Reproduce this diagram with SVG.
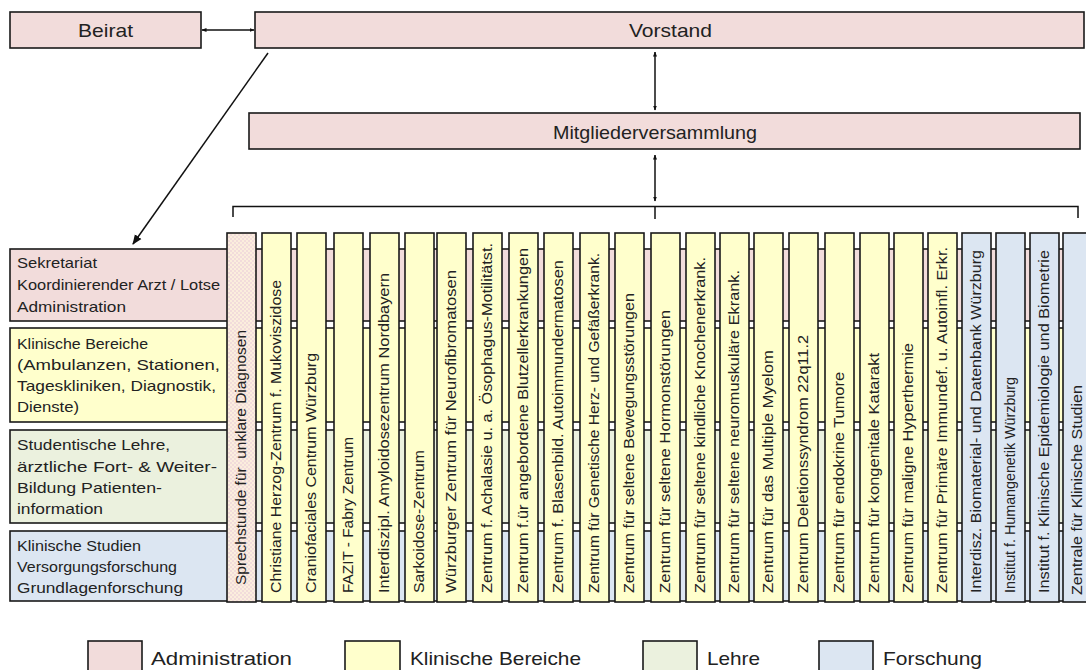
<svg xmlns="http://www.w3.org/2000/svg" width="1086" height="670" viewBox="0 0 1086 670">
<defs>
<style>
.box{stroke:#1a1a1a;stroke-width:1.6}
.adm{fill:#f2dcdb}.kli{fill:#ffffcc}.leh{fill:#ebf1de}.for{fill:#dce6f2}
.t{font-family:"Liberation Sans",Arial,sans-serif;fill:#222}
.lbl{font-size:15px}
.col{font-size:14px}
.big{font-size:18.5px}
.con{stroke:#111;stroke-width:1.5;fill:none}
</style>
<pattern id="chk" width="4" height="4" patternUnits="userSpaceOnUse">
<rect width="4" height="4" fill="#fbeedd"/>
<rect width="2" height="2" fill="#f2dcdb"/>
<rect x="2" y="2" width="2" height="2" fill="#f2dcdb"/>
</pattern>
<marker id="ah" viewBox="0 0 10 10" refX="9" refY="5" markerWidth="5" markerHeight="5" orient="auto-start-reverse" markerUnits="userSpaceOnUse">
<path d="M0,1 L10,5 L0,9 z" fill="#111"/>
</marker>
<marker id="ahb" viewBox="0 0 10 10" refX="9" refY="5" markerWidth="10" markerHeight="10" orient="auto" markerUnits="userSpaceOnUse">
<path d="M0,1 L10,5 L0,9 z" fill="#111"/>
</marker>
</defs>
<rect width="1086" height="670" fill="#fff"/>

<g id="beirat"><rect class="box adm" x="10" y="12" width="191" height="36"/><text class="t big" x="78" y="37" textLength="55" lengthAdjust="spacingAndGlyphs">Beirat</text></g>
<g id="vorstand"><rect class="box adm" x="255" y="12" width="829" height="36"/><text class="t big" x="629" y="37" textLength="83" lengthAdjust="spacingAndGlyphs">Vorstand</text></g>
<g id="mitglieder"><rect class="box adm" x="249" y="113" width="831" height="36"/><text class="t big" x="553" y="139" textLength="204" lengthAdjust="spacingAndGlyphs">Mitgliederversammlung</text></g>

<g id="row-admin"><rect class="box adm" x="10" y="249" width="1072" height="72"/>
<text class="t lbl" x="17" y="268" textLength="80" lengthAdjust="spacingAndGlyphs">Sekretariat</text>
<text class="t lbl" x="17" y="290" textLength="203" lengthAdjust="spacingAndGlyphs">Koordinierender Arzt / Lotse</text>
<text class="t lbl" x="17" y="312" textLength="109" lengthAdjust="spacingAndGlyphs">Administration</text></g>
<g id="row-klinik"><rect class="box kli" x="10" y="328" width="1072" height="94"/>
<text class="t lbl" x="17" y="349" textLength="131" lengthAdjust="spacingAndGlyphs">Klinische Bereiche</text>
<text class="t lbl" x="17" y="370" textLength="203" lengthAdjust="spacingAndGlyphs">(Ambulanzen, Stationen,</text>
<text class="t lbl" x="17" y="391" textLength="199" lengthAdjust="spacingAndGlyphs">Tageskliniken, Diagnostik,</text>
<text class="t lbl" x="17" y="412" textLength="62" lengthAdjust="spacingAndGlyphs">Dienste)</text></g>
<g id="row-lehre"><rect class="box leh" x="10" y="430" width="1072" height="93"/>
<text class="t lbl" x="17" y="450" textLength="153" lengthAdjust="spacingAndGlyphs">Studentische Lehre,</text>
<text class="t lbl" x="17" y="472" textLength="200" lengthAdjust="spacingAndGlyphs">ärztliche Fort- &amp; Weiter-</text>
<text class="t lbl" x="17" y="493" textLength="145" lengthAdjust="spacingAndGlyphs">Bildung Patienten-</text>
<text class="t lbl" x="17" y="514" textLength="86" lengthAdjust="spacingAndGlyphs">information</text></g>
<g id="row-forschung"><rect class="box for" x="10" y="531" width="1072" height="70"/>
<text class="t lbl" x="17" y="551" textLength="124" lengthAdjust="spacingAndGlyphs">Klinische Studien</text>
<text class="t lbl" x="17" y="572" textLength="160" lengthAdjust="spacingAndGlyphs">Versorgungsforschung</text>
<text class="t lbl" x="17" y="593" textLength="166" lengthAdjust="spacingAndGlyphs">Grundlagenforschung</text></g>

<g id="c1"><rect class="box" fill="url(#chk)" x="227" y="233" width="29" height="369"/><text class="t col" xml:space="preserve" transform="translate(246,585) rotate(-90)" textLength="255" lengthAdjust="spacingAndGlyphs">Sprechstunde für  unklare Diagnosen</text></g>
<g id="c2"><rect class="box kli" x="262" y="233" width="29" height="369"/><text class="t col" transform="translate(281,593) rotate(-90)" textLength="313" lengthAdjust="spacingAndGlyphs">Christiane Herzog-Zentrum f. Mukoviszidose</text></g>
<g id="c3"><rect class="box kli" x="297" y="233" width="29" height="369"/><text class="t col" transform="translate(316,593) rotate(-90)" textLength="240" lengthAdjust="spacingAndGlyphs">Craniofaciales Centrum Würzburg</text></g>
<g id="c4"><rect class="box kli" x="334" y="233" width="29" height="369"/><text class="t col" transform="translate(353,593) rotate(-90)" textLength="156" lengthAdjust="spacingAndGlyphs">FAZIT - Fabry Zentrum</text></g>
<g id="c5"><rect class="box kli" x="370" y="233" width="29" height="369"/><text class="t col" transform="translate(389,593) rotate(-90)" textLength="320" lengthAdjust="spacingAndGlyphs">Interdiszipl. Amyloidosezentrum Nordbayern</text></g>
<g id="c6"><rect class="box kli" x="405" y="233" width="29" height="369"/><text class="t col" transform="translate(424,593) rotate(-90)" textLength="143" lengthAdjust="spacingAndGlyphs">Sarkoidose-Zentrum</text></g>
<g id="c7"><rect class="box kli" x="437" y="233" width="29" height="369"/><text class="t col" transform="translate(456,593) rotate(-90)" textLength="323" lengthAdjust="spacingAndGlyphs">Würzburger Zentrum für Neurofibromatosen</text></g>
<g id="c8"><rect class="box kli" x="473" y="233" width="29" height="369"/><text class="t col" transform="translate(492,593) rotate(-90)" textLength="350" lengthAdjust="spacingAndGlyphs">Zentrum f. Achalasie u. a. Ösophagus-Motilitätst.</text></g>
<g id="c9"><rect class="box kli" x="509" y="233" width="29" height="369"/><text class="t col" transform="translate(528,593) rotate(-90)" textLength="345" lengthAdjust="spacingAndGlyphs">Zentrum f.ür angebordene Blutzellerkrankungen</text></g>
<g id="c10"><rect class="box kli" x="544" y="233" width="29" height="369"/><text class="t col" transform="translate(563,593) rotate(-90)" textLength="333" lengthAdjust="spacingAndGlyphs">Zentrum f. Blasenbild. Autoimmundermatosen</text></g>
<g id="c11"><rect class="box kli" x="580" y="233" width="29" height="369"/><text class="t col" transform="translate(599,593) rotate(-90)" textLength="340" lengthAdjust="spacingAndGlyphs">Zentrum für Genetische Herz- und Gefäßerkrank.</text></g>
<g id="c12"><rect class="box kli" x="615" y="233" width="29" height="369"/><text class="t col" transform="translate(634,593) rotate(-90)" textLength="300" lengthAdjust="spacingAndGlyphs">Zentrum für seltene Bewegungsstörungen</text></g>
<g id="c13"><rect class="box kli" x="651" y="233" width="29" height="369"/><text class="t col" transform="translate(670,593) rotate(-90)" textLength="283" lengthAdjust="spacingAndGlyphs">Zentrum für seltene Hormonstörungen</text></g>
<g id="c14"><rect class="box kli" x="686" y="233" width="29" height="369"/><text class="t col" transform="translate(705,593) rotate(-90)" textLength="336" lengthAdjust="spacingAndGlyphs">Zentrum für seltene kindliche Knochenerkrank.</text></g>
<g id="c15"><rect class="box kli" x="720" y="233" width="29" height="369"/><text class="t col" transform="translate(739,593) rotate(-90)" textLength="323" lengthAdjust="spacingAndGlyphs">Zentrum für seltene neuromuskuläre Ekrank.</text></g>
<g id="c16"><rect class="box kli" x="754" y="233" width="29" height="369"/><text class="t col" transform="translate(773,593) rotate(-90)" textLength="243" lengthAdjust="spacingAndGlyphs">Zentrum für das Multiple Myelom</text></g>
<g id="c17"><rect class="box kli" x="789" y="233" width="29" height="369"/><text class="t col" transform="translate(808,593) rotate(-90)" textLength="258" lengthAdjust="spacingAndGlyphs">Zentrum Deletionssyndrom 22q11.2</text></g>
<g id="c18"><rect class="box kli" x="825" y="233" width="29" height="369"/><text class="t col" transform="translate(844,593) rotate(-90)" textLength="221" lengthAdjust="spacingAndGlyphs">Zentrum für endokrine Tumore</text></g>
<g id="c19"><rect class="box kli" x="860" y="233" width="29" height="369"/><text class="t col" transform="translate(879,593) rotate(-90)" textLength="240" lengthAdjust="spacingAndGlyphs">Zentrum für kongenitale Katarakt</text></g>
<g id="c20"><rect class="box kli" x="894" y="233" width="29" height="369"/><text class="t col" transform="translate(913,593) rotate(-90)" textLength="250" lengthAdjust="spacingAndGlyphs">Zentrum für maligne Hyperthermie</text></g>
<g id="c21"><rect class="box kli" x="928" y="233" width="29" height="369"/><text class="t col" transform="translate(947,593) rotate(-90)" textLength="346" lengthAdjust="spacingAndGlyphs">Zentrum für Primäre Immundef. u. Autoinfl. Erkr.</text></g>
<g id="c22"><rect class="box for" x="962" y="233" width="29" height="369"/><text class="t col" transform="translate(981,593) rotate(-90)" textLength="343" lengthAdjust="spacingAndGlyphs">Interdisz. Biomaterial- und Datenbank Würzburg</text></g>
<g id="c23"><rect class="box for" x="996" y="233" width="29" height="369"/><text class="t col" transform="translate(1015,593) rotate(-90)" textLength="216" lengthAdjust="spacingAndGlyphs">Institut f. Humangenetik Würzburg</text></g>
<g id="c24"><rect class="box for" x="1030" y="233" width="29" height="369"/><text class="t col" transform="translate(1049,593) rotate(-90)" textLength="343" lengthAdjust="spacingAndGlyphs">Institut f. Klinische Epidemiologie und Biometrie</text></g>
<g id="c25"><rect class="box for" x="1063" y="233" width="29" height="369"/><text class="t col" transform="translate(1082,595) rotate(-90)" textLength="210" lengthAdjust="spacingAndGlyphs">Zentrale für Klinische Studien</text></g>

<g id="connectors">
<line class="con" x1="202" y1="30" x2="254" y2="30" marker-start="url(#ah)" marker-end="url(#ah)"/>
<line class="con" x1="655" y1="52" x2="655" y2="110" marker-start="url(#ah)" marker-end="url(#ah)"/>
<line class="con" x1="655" y1="155" x2="655" y2="201" marker-start="url(#ah)" marker-end="url(#ah)"/>
<path class="con" d="M233,217 V206.5 H1078 V218 M655,206.5 V219"/>
<line class="con" x1="268" y1="53" x2="133" y2="244" marker-end="url(#ahb)"/>
</g>

<g id="legend">
<rect class="box adm" x="88" y="641" width="54" height="35"/><text class="t big" x="151" y="665" textLength="141" lengthAdjust="spacingAndGlyphs">Administration</text>
<rect class="box kli" x="345" y="641" width="55" height="35"/><text class="t big" x="410" y="665" textLength="171" lengthAdjust="spacingAndGlyphs">Klinische Bereiche</text>
<rect class="box leh" x="643" y="641" width="54" height="35"/><text class="t big" x="707" y="665" textLength="53" lengthAdjust="spacingAndGlyphs">Lehre</text>
<rect class="box for" x="819" y="641" width="54" height="35"/><text class="t big" x="883" y="665" textLength="99" lengthAdjust="spacingAndGlyphs">Forschung</text>
</g>
</svg>
